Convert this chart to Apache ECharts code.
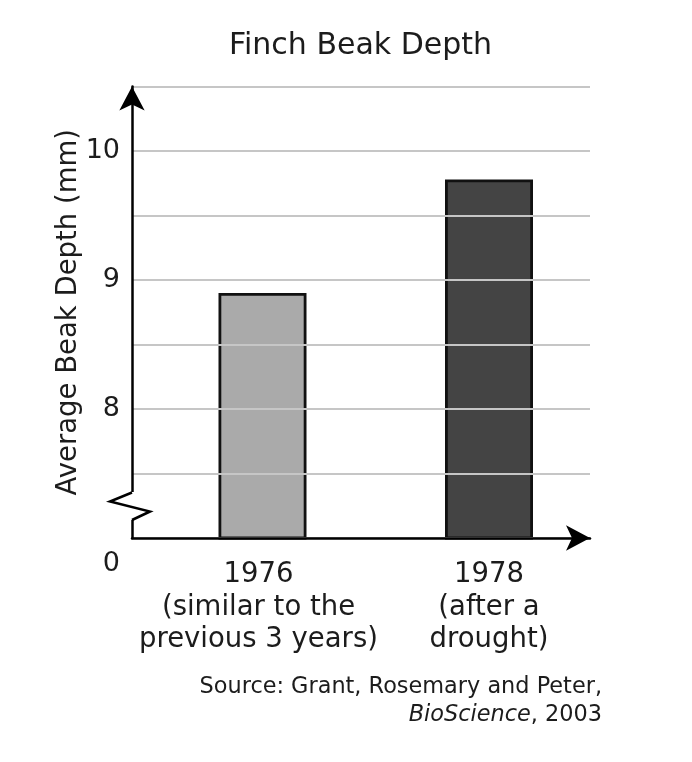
<!DOCTYPE html>
<html>
<head>
<meta charset="utf-8">
<script src="https://cdn.jsdelivr.net/npm/echarts@6/dist/echarts.min.js"></script>
<style>
html,body{margin:0;padding:0;background:#fff;}
#chart{width:692px;height:762px;}
</style>
</head>
<body>
<div id="chart"></div>
<script>
const categories = ['1976\n(similar to the\nprevious 3 years)', '1978\n(after a\ndrought)'];
const depthValues = [8.9, 9.78];
const barColors = ['#aaaaaa', '#444444'];
const yLabelValues = [7, 8, 9, 10];
const yLabelTexts = ['0', '8', '9', '10'];
const titleText = 'Finch Beak Depth';
const yAxisName = 'Average Beak Depth (mm)';
const sourceLine1 = 'Source: Grant, Rosemary and Peter,';
const sourceJournal = 'BioScience';
const sourceYear = ', 2003';

const FONT = 'DejaVu Sans';
const TXT = '#1c1c1c';
const chart = echarts.init(document.getElementById('chart'));

const gridTop = 86.5, gridBottom = 224;
const labelShift = [[0, 8, 0, 0], [0, 0, 0, 0]];

const sourceText = {
  type: 'text', x: 602, y: 673, z: 100,
  style: {
    text: sourceLine1 + '\n{i|' + sourceJournal + '}' + sourceYear,
    fill: TXT, font: '22.4px "DejaVu Sans"', align: 'right', verticalAlign: 'top', lineHeight: 28,
    rich: { i: { fontStyle: 'italic', fontSize: 22.4, fontFamily: FONT, fill: TXT, lineHeight: 28 } }
  }
};

chart.setOption({
  animation: false,
  backgroundColor: '#ffffff',
  textStyle: { fontFamily: FONT, color: TXT },
  title: {
    text: titleText, left: 355.5, top: 26, textAlign: 'center',
    textStyle: { fontSize: 30, fontWeight: 'normal', fontFamily: FONT, color: TXT }
  },
  grid: [
    { left: 132, right: 102, top: gridTop, bottom: gridBottom },
    { left: 149.25, right: 89.75, top: gridTop, bottom: gridBottom }
  ],
  xAxis: [
    {
      gridIndex: 0, type: 'value', min: 0, max: 1,
      axisLabel: { show: false }, axisTick: { show: false }, splitLine: { show: false },
      axisLine: { show: true, lineStyle: { color: '#000', width: 2.5 },
        symbol: ['none', 'arrow'], symbolSize: [19, 24], symbolOffset: [0, 0] },
      z: 5
    },
    {
      gridIndex: 1, type: 'category',
      data: categories.map(function (c, i) { return { value: c, textStyle: { padding: labelShift[i] } }; }),
      axisLine: { show: false }, axisTick: { show: false },
      axisLabel: { margin: 21, fontSize: 27.5, lineHeight: 32.5, color: TXT, fontFamily: FONT, interval: 0 }
    }
  ],
  yAxis: [
    {
      gridIndex: 0, type: 'value', min: 7, max: 10.5, interval: 0.5,
      name: yAxisName, nameLocation: 'middle', nameGap: 49, nameRotate: 90, nameMoveOverlap: false,
      nameTextStyle: { fontSize: 27.5, color: TXT, fontFamily: FONT },
      axisLine: { show: true, lineStyle: { color: '#000', width: 2.5 },
        symbol: ['none', 'arrow'], symbolSize: [19, 24], symbolOffset: [0, 0] },
      axisTick: { show: false },
      splitLine: { show: true, lineStyle: { color: '#c6c6c6', width: 2.2 } },
      axisLabel: {
        margin: 12, fontSize: 27, color: TXT, fontFamily: FONT,
        formatter: function (v) {
          const i = yLabelValues.indexOf(v);
          if (i < 0) return '';
          return i === 0 ? '{z|' + yLabelTexts[i] + '}' : yLabelTexts[i];
        },
        rich: { z: { fontSize: 27, color: TXT, fontFamily: FONT, padding: [52, 0, 0, 0] } }
      },
      z: 5
    },
    { gridIndex: 1, type: 'value', min: 7, max: 10.5, interval: 0.5, show: false }
  ],
  series: [
    {
      type: 'bar', xAxisIndex: 1, yAxisIndex: 1, barWidth: 88, z: 3,
      data: depthValues.map(function (v, i) {
        return { value: v, itemStyle: { color: barColors[i], borderColor: '#111', borderWidth: 2.8 } };
      })
    }
  ],
  graphic: [sourceText]
});

const p7 = chart.convertToPixel({ gridIndex: 0 }, [0, 7]);
const ax = p7[0], ay = p7[1];
chart.setOption({
  graphic: [
    sourceText,
    {
      type: 'rect', z: 100,
      shape: { x: ax - 3, y: ay - 46, width: 6, height: 28 },
      style: { fill: '#ffffff' }
    },
    {
      type: 'polyline', z: 101,
      shape: { points: [[ax, ay - 18], [ax + 18, ay - 26.5], [ax - 22, ay - 36.5], [ax, ay - 45.5]] },
      style: { stroke: '#000', lineWidth: 2.5, fill: null, lineJoin: 'miter' }
    }
  ]
}, { replaceMerge: ['graphic'] });
</script>
</body>
</html>
